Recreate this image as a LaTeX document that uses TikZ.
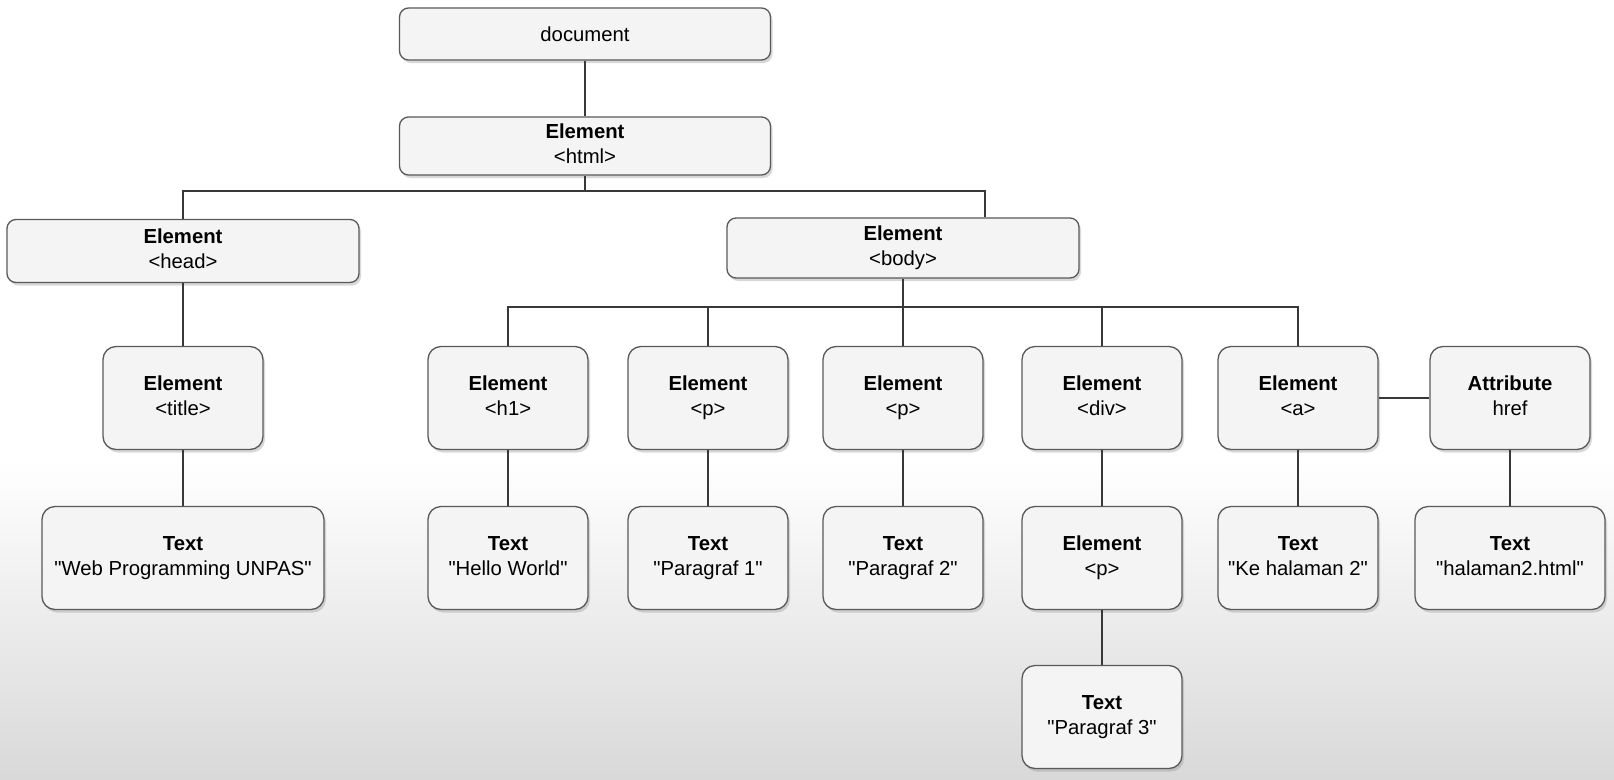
\documentclass[tikz,border=0pt]{standalone}
\usepackage{fontspec}
\newfontfamily\diagfont{Liberation Sans}
\usetikzlibrary{shadows}

\newcommand{\lab}[2]{\textbf{#1}\strut\\#2\strut}

\begin{document}
\begin{tikzpicture}[x=1pt,y=-1pt,font=\diagfont\fontsize{20.3}{24.5}\selectfont]

	\tikzstyle{mybox}=[draw=gray!70!black,line width=1.3pt,fill=gray!9,rounded corners=13pt,align=center,inner sep=0pt,
		minimum width=160pt,minimum height=103pt,drop shadow={shadow xshift=2pt,shadow yshift=-3pt,opacity=.3}]
	\tikzstyle{mywide}=[mybox,rounded corners=9pt]
	\tikzstyle{mylink}=[line width=1.7pt,black!78]

	\useasboundingbox (0,0) rectangle (1614,779);
	\fill[white] (0,0) rectangle (1614,779);
	\shade[top color=white,bottom color=gray!30] (0,460) rectangle (1614,779);

	% top of the tree
	\node[mywide,minimum width=371pt,minimum height=52pt] (doc) at (585,34) {document};
	\node[mywide,minimum width=371pt,minimum height=58pt] (html) at (585,146) {\lab{Element}{<html>}};
	\node[mywide,minimum width=352pt,minimum height=63pt] (head) at (183,251) {\lab{Element}{<head>}};
	\node[mywide,minimum width=352pt,minimum height=60pt] (body) at (903,248) {\lab{Element}{<body>}};

	% second row
	\node[mybox] (title) at (183,398) {\lab{Element}{<title>}};
	\node[mybox] (h1) at (508,398) {\lab{Element}{<h1>}};
	\node[mybox] (p1) at (708,398) {\lab{Element}{<p>}};
	\node[mybox] (p2) at (903,398) {\lab{Element}{<p>}};
	\node[mybox] (div) at (1102,398) {\lab{Element}{<div>}};
	\node[mybox] (a) at (1298,398) {\lab{Element}{<a>}};
	\node[mybox] (attr) at (1510,398) {\lab{Attribute}{href}};

	% third row
	\node[mybox,minimum width=282pt] (txtitle) at (183,558) {\lab{Text}{"Web Programming UNPAS"}};
	\node[mybox] (txh1) at (508,558) {\lab{Text}{"Hello World"}};
	\node[mybox] (txp1) at (708,558) {\lab{Text}{"Paragraf 1"}};
	\node[mybox] (txp2) at (903,558) {\lab{Text}{"Paragraf 2"}};
	\node[mybox] (divp) at (1102,558) {\lab{Element}{<p>}};
	\node[mybox] (txa) at (1298,558) {\lab{Text}{"Ke halaman 2"}};
	\node[mybox,minimum width=190pt] (txattr) at (1510,558) {\lab{Text}{"halaman2.html"}};
	\node[mybox] (txp3) at (1102,717) {\lab{Text}{"Paragraf 3"}};

	% buses
	\coordinate (hbus) at (585,191);
	\coordinate (bbus) at (903,307);

	\draw[mylink] (doc) -- (html);
	\draw[mylink] (html.south) -- (hbus);
	\draw[mylink] (head.north) |- (hbus) -| ([xshift=82pt]body.north);
	\draw[mylink] (body.south) -- (bbus);
	\draw[mylink] (h1.north) |- (bbus) -| (a.north);
	\foreach \n in {p1,p2,div}{ \draw[mylink] (\n.north) -- (\n.north |- bbus);}
	\draw[mylink] (head) -- (title);
	\draw[mylink] (a) -- (attr);
	\foreach \x / \y in {title/txtitle,h1/txh1,p1/txp1,p2/txp2,div/divp,divp/txp3,a/txa,attr/txattr}{ \draw[mylink] (\x) -- (\y);}
\end{tikzpicture}
\end{document}
